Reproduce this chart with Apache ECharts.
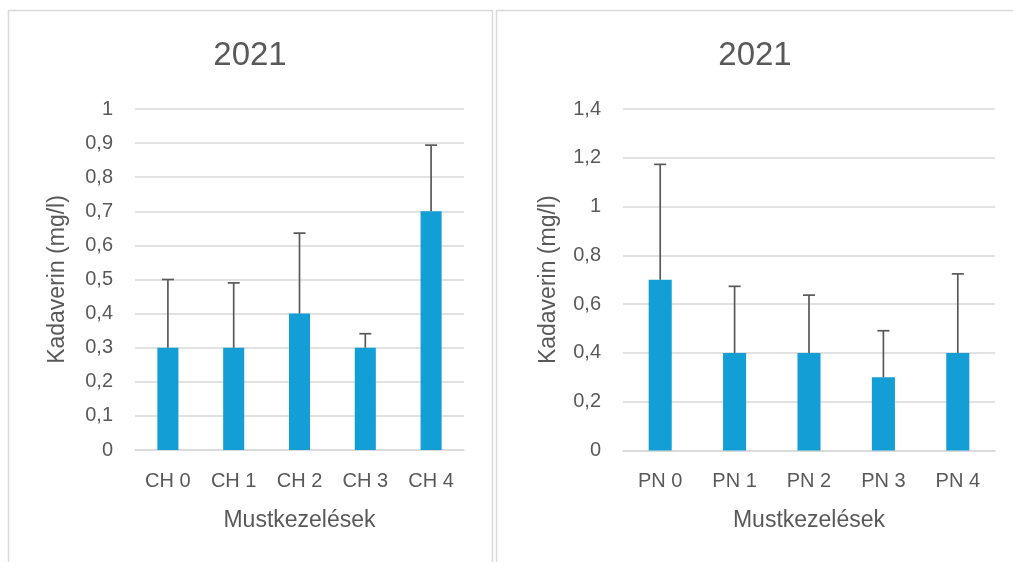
<!DOCTYPE html>
<html>
<head>
<meta charset="utf-8">
<script src="https://cdn.jsdelivr.net/npm/echarts@6/dist/echarts.min.js"></script>
<style>
html,body{margin:0;padding:0;background:#fff;}
#c{width:1013px;height:562px;}
</style>
</head>
<body>
<div id="c"></div>
<script>
// Data
var chCategories = ['CH 0', 'CH 1', 'CH 2', 'CH 3', 'CH 4'];
var chValues = [0.3, 0.3, 0.4, 0.3, 0.7];
var chUpper = [0.5, 0.49, 0.636, 0.341, 0.894];

var pnCategories = ['PN 0', 'PN 1', 'PN 2', 'PN 3', 'PN 4'];
var pnValues = [0.7, 0.4, 0.4, 0.3, 0.4];
var pnUpper = [1.173, 0.673, 0.637, 0.491, 0.724];

var titleText = '2021';
var yName = 'Kadaverin (mg/l)';
var xName = 'Mustkezelések';

var FONT = '"Liberation Sans", Arial, sans-serif';
var TXT = '#595959';
var GRID = '#d9d9d9';
var BAR = '#139fd6';

function fmt(v) { return String(+v.toFixed(2)).replace('.', ','); }

function errData(vals, ups) {
  return vals.map(function (v, i) { return [i, v, ups[i]]; });
}

function errRender(params, api) {
  var i = api.value(0);
  var p0 = api.coord([i, api.value(1)]);
  var p1 = api.coord([i, api.value(2)]);
  var hw = 6;
  var st = { stroke: TXT, lineWidth: 1.7 };
  return {
    type: 'group',
    children: [
      { type: 'line', shape: { x1: p0[0], y1: p0[1], x2: p1[0], y2: p1[1] }, style: st },
      { type: 'line', shape: { x1: p1[0] - hw, y1: p1[1], x2: p1[0] + hw, y2: p1[1] }, style: st }
    ]
  };
}

function xAxisCfg(gi, cats) {
  return {
    type: 'category', gridIndex: gi, data: cats,
    axisLine: { show: true, lineStyle: { color: GRID, width: 1.5 } },
    axisTick: { show: false },
    axisLabel: { color: TXT, fontSize: 20, fontFamily: FONT, margin: 21 },
    name: xName, nameLocation: 'middle', nameGap: 59,
    nameTextStyle: { color: TXT, fontSize: 23, fontFamily: FONT }
  };
}
function yAxisCfg(gi, max, interval, gap) {
  return {
    type: 'value', gridIndex: gi, min: 0, max: max, interval: interval,
    axisLine: { show: false }, axisTick: { show: false },
    splitLine: { lineStyle: { color: GRID, width: 1.5 } },
    axisLabel: { color: TXT, fontSize: 20, fontFamily: FONT, margin: 22, formatter: fmt },
    name: yName, nameLocation: 'middle', nameGap: gap,
    nameTextStyle: { color: TXT, fontSize: 23, fontFamily: FONT }
  };
}

var chart = echarts.init(document.getElementById('c'), null, { renderer: 'canvas' });
chart.setOption({
  backgroundColor: '#fff',
  animation: false,
  graphic: [
    { type: 'rect', shape: { x: 8.5, y: 10.5, width: 484, height: 600 }, style: { fill: 'none', stroke: '#d9d9d9', lineWidth: 1.5 } },
    { type: 'rect', shape: { x: 496.5, y: 10.5, width: 600, height: 600 }, style: { fill: 'none', stroke: '#d9d9d9', lineWidth: 1.5 } }
  ],
  title: [
    { text: titleText, left: 250, top: 39, padding: 0, textAlign: 'center',
      textStyle: { color: TXT, fontSize: 33, fontWeight: 'normal', fontFamily: FONT } },
    { text: titleText, left: 755, top: 39, padding: 0, textAlign: 'center',
      textStyle: { color: TXT, fontSize: 33, fontWeight: 'normal', fontFamily: FONT } }
  ],
  grid: [
    { left: 135, top: 109, width: 329, height: 341 },
    { left: 623, top: 109, width: 372, height: 341.5 }
  ],
  xAxis: [xAxisCfg(0, chCategories), xAxisCfg(1, pnCategories)],
  yAxis: [yAxisCfg(0, 1, 0.1, 66), yAxisCfg(1, 1.4, 0.2, 63)],
  series: [
    { type: 'bar', xAxisIndex: 0, yAxisIndex: 0, data: chValues, barWidth: '32%',
      itemStyle: { color: BAR } },
    { type: 'custom', xAxisIndex: 0, yAxisIndex: 0, data: errData(chValues, chUpper),
      renderItem: errRender, z: 5 },
    { type: 'bar', xAxisIndex: 1, yAxisIndex: 1, data: pnValues, barWidth: '31%',
      itemStyle: { color: BAR } },
    { type: 'custom', xAxisIndex: 1, yAxisIndex: 1, data: errData(pnValues, pnUpper),
      renderItem: errRender, z: 5 }
  ]
});
</script>
</body>
</html>
